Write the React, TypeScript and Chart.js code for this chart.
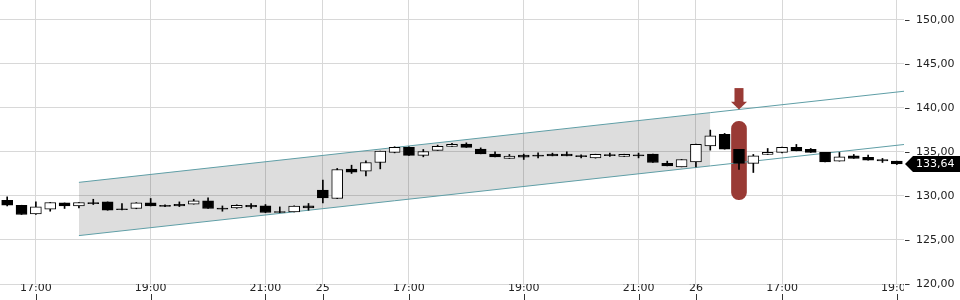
import { useEffect, useRef } from 'react';
import { Chart, registerables } from 'chart.js';

Chart.register(...registerables);

// 15-minute candles, index 0 = day 1 16:30
const opens = [
  129.52, 128.95, 127.96, 128.5, 129.21, 128.87, 129.25, 129.33, 128.55, 128.58,
  129.21, 128.95, 129.05, 129.07, 129.44, 128.6, 128.65, 128.95, 128.87, 128.22,
  128.19, 128.87, 130.66, 129.72, 133.05, 132.82, 133.81, 134.95, 135.52, 134.61,
  135.18, 135.63, 135.89, 135.32, 134.76, 134.27, 134.64, 134.6, 134.76, 134.76,
  134.53, 134.33, 134.68, 134.49, 134.66, 134.76, 133.7, 133.31, 133.88, 135.7,
  137.0, 135.29, 133.7, 134.72, 134.95, 135.52, 135.29, 134.95, 133.96, 134.56,
  134.38, 134.15, 133.96,
];
const highs = [
  129.9, 128.95, 129.33, 129.26, 129.21, 129.26, 129.63, 129.33, 129.15, 129.25,
  129.72, 129.0, 129.33, 129.63, 129.78, 128.87, 129.0, 129.15, 129.03, 128.76,
  128.88, 129.15, 131.8, 133.13, 133.5, 133.99, 135.1, 135.6, 135.6, 135.29,
  135.78, 135.97, 136.04, 135.47, 135.02, 134.72, 134.76, 134.9, 134.87, 135.02,
  134.69, 134.75, 134.87, 134.75, 134.87, 134.76, 133.96, 134.15, 135.9, 137.49,
  137.11, 135.29, 134.72, 135.4, 135.55, 135.86, 135.4, 134.95, 134.95, 134.72,
  134.64, 134.27, 133.96,
];
const lows = [
  128.87, 127.9, 127.9, 128.27, 128.58, 128.65, 129.03, 128.38, 128.42, 128.55,
  128.87, 128.8, 128.8, 129.07, 128.58, 128.27, 128.6, 128.58, 128.12, 128.1,
  128.19, 128.38, 129.21, 129.7, 132.56, 132.29, 133.08, 134.9, 134.6, 134.45,
  135.18, 135.63, 135.52, 134.79, 134.45, 134.27, 134.15, 134.33, 134.56, 134.56,
  134.33, 134.3, 134.5, 134.49, 134.33, 133.81, 133.42, 133.31, 133.31, 135.21,
  135.32, 133.01, 132.67, 134.72, 134.9, 135.13, 134.95, 133.88, 133.96, 134.27,
  134.07, 133.81, 133.58,
];
const closes = [
  128.95, 127.9, 128.76, 129.26, 128.87, 129.26, 129.12, 128.38, 128.44, 129.21,
  128.87, 128.82, 128.87, 129.44, 128.58, 128.5, 128.95, 128.76, 128.12, 128.12,
  128.84, 128.65, 129.78, 133.01, 132.71, 133.81, 135.1, 135.52, 134.61, 135.06,
  135.63, 135.86, 135.52, 134.79, 134.45, 134.53, 134.41, 134.53, 134.56, 134.56,
  134.48, 134.72, 134.58, 134.72, 134.56, 133.81, 133.42, 134.15, 135.86, 136.84,
  135.32, 133.7, 134.56, 134.95, 135.52, 135.13, 134.95, 133.88, 134.45, 134.27,
  134.07, 133.99, 133.64,
];

const xTickIndex = [2, 10, 18, 22, 28, 36, 44, 48, 54, 62];
const xTickLabels = ['17:00', '19:00', '21:00', '25', '17:00', '19:00', '21:00', '26', '17:00', '19:00'];
const yTicks = [120, 125, 130, 135, 140, 145, 150];

// trend channel (candle index, price)
const channelX = [5, 49, 62.5];
const channelUpper = [131.55, 139.47, 141.9];
const channelLower = [125.5, 133.42, 135.85];
const shadedCount = 2; // channel shaded from channelX[0] to channelX[1]

const markerIndex = 51;
const markerRange = [129.58, 138.47];
const arrowLevels = [142.26, 140.71, 139.84]; // top, neck, tip
const lastPrice = 133.64;

const FONT = '"DejaVu Sans", sans-serif';
const GRID = '#d8d8d8';
const TEXT = '#222222';
const RED = '#993a35';
const TEAL = '#5f9ea6';

const fmt = (v: number) => v.toFixed(2).replace('.', ',');

const overlay = {
  id: 'overlay',
  afterDraw(chart: any) {
    const { ctx, chartArea, scales } = chart;
    const x = scales.x;
    const y = scales.y;
    ctx.save();

    // arrow above marker
    const ax = x.getPixelForValue(markerIndex);
    const yTop = y.getPixelForValue(arrowLevels[0]);
    const yNeck = y.getPixelForValue(arrowLevels[1]);
    const yTip = y.getPixelForValue(arrowLevels[2]);
    ctx.fillStyle = RED;
    ctx.fillRect(ax - 4.5, yTop, 9, yNeck - yTop + 0.5);
    ctx.beginPath();
    ctx.moveTo(ax - 8, yNeck);
    ctx.lineTo(ax + 8, yNeck);
    ctx.lineTo(ax, yTip);
    ctx.closePath();
    ctx.fill();

    // y tick dashes
    ctx.strokeStyle = '#333';
    ctx.lineWidth = 1;
    y.ticks.forEach((t: any) => {
      const py = Math.round(y.getPixelForValue(t.value)) + 0.5;
      ctx.beginPath();
      ctx.moveTo(chartArea.right + 1, py);
      ctx.lineTo(chartArea.right + 5.5, py);
      ctx.stroke();
    });

    // x tick marks below labels
    x.ticks.forEach((t: any) => {
      const px = Math.round(x.getPixelForValue(t.value)) + 0.5;
      ctx.beginPath();
      ctx.moveTo(px, chartArea.bottom + 10);
      ctx.lineTo(px, chartArea.bottom + 16);
      ctx.stroke();
    });

    // x labels clipped to plot width
    ctx.save();
    ctx.beginPath();
    ctx.rect(0, chartArea.bottom, chartArea.right, 20);
    ctx.clip();
    ctx.font = '11px ' + FONT;
    ctx.fillStyle = TEXT;
    ctx.textAlign = 'center';
    ctx.textBaseline = 'middle';
    xTickIndex.forEach((v, i) => {
      ctx.fillText(xTickLabels[i], x.getPixelForValue(v), chartArea.bottom + 4);
    });
    ctx.restore();

    // last price tag
    const py = y.getPixelForValue(lastPrice);
    const left = chartArea.right + 1;
    ctx.fillStyle = '#000';
    ctx.beginPath();
    ctx.moveTo(left, py);
    ctx.lineTo(left + 8, py - 8);
    ctx.lineTo(chart.width, py - 8);
    ctx.lineTo(chart.width, py + 8);
    ctx.lineTo(left + 8, py + 8);
    ctx.closePath();
    ctx.fill();
    ctx.fillStyle = '#fff';
    ctx.font = '11px ' + FONT;
    ctx.textAlign = 'left';
    ctx.textBaseline = 'middle';
    ctx.fillText(fmt(lastPrice), chartArea.right + 12, py + 0.5);

    ctx.restore();
  },
};

export default function App() {
  const ref = useRef<HTMLCanvasElement | null>(null);

  useEffect(() => {
    document.body.style.margin = '0';
    if (!ref.current) return;
    const idx = opens.map((_, i) => i);
    const chart = new Chart(ref.current, {
      type: 'bar',
      data: {
        datasets: [
          {
            type: 'bar',
            data: idx.map((i) => ({ x: i, y: [opens[i], closes[i]] })) as any,
            backgroundColor: (c: any) => (closes[c.dataIndex] >= opens[c.dataIndex] ? '#ffffff' : '#000000'),
            borderColor: '#000000',
            borderWidth: 1,
            borderSkipped: false,
            barThickness: 11,
            minBarLength: 1,
            grouped: false,
            order: 1,
          } as any,
          {
            type: 'bar',
            data: idx.map((i) => ({ x: i, y: [lows[i], highs[i]] })) as any,
            backgroundColor: '#000000',
            borderWidth: 0,
            barThickness: 1,
            grouped: false,
            order: 2,
          } as any,
          {
            type: 'bar',
            data: [{ x: markerIndex, y: markerRange }] as any,
            backgroundColor: RED,
            borderWidth: 0,
            borderRadius: 8,
            borderSkipped: false,
            barThickness: 15,
            grouped: false,
            order: 5,
          } as any,
          {
            type: 'line',
            data: channelX.map((v, i) => ({ x: v, y: channelUpper[i] })),
            borderColor: TEAL,
            borderWidth: 1,
            pointRadius: 0,
            fill: false,
            order: 4,
          } as any,
          {
            type: 'line',
            data: channelX.map((v, i) => ({ x: v, y: channelLower[i] })),
            borderColor: TEAL,
            borderWidth: 1,
            pointRadius: 0,
            fill: false,
            order: 4,
          } as any,
          {
            type: 'line',
            data: channelX.slice(0, shadedCount).map((v, i) => ({ x: v, y: channelUpper[i] })),
            borderWidth: 0,
            pointRadius: 0,
            fill: '+1',
            backgroundColor: 'rgba(0,0,0,0.135)',
            order: 6,
          } as any,
          {
            type: 'line',
            data: channelX.slice(0, shadedCount).map((v, i) => ({ x: v, y: channelLower[i] })),
            borderWidth: 0,
            pointRadius: 0,
            fill: false,
            order: 6,
          } as any,
        ],
      },
      options: {
        responsive: false,
        animation: false,
        events: [],
        layout: { padding: 0, autoPadding: false },
        plugins: { legend: { display: false }, tooltip: { enabled: false } },
        scales: {
          x: {
            type: 'linear',
            position: 'bottom',
            min: -0.5,
            max: 62.5,
            offset: false,
            grid: { color: GRID, drawTicks: false, offset: false },
            border: { display: false },
            ticks: { display: false },
            afterBuildTicks: (s: any) => {
              s.ticks = xTickIndex.map((v) => ({ value: v }));
            },
            afterFit: (s: any) => {
              s.height = 16;
              s.paddingLeft = 0;
              s.paddingRight = 0;
            },
          },
          y: {
            type: 'linear',
            position: 'right',
            min: 120,
            max: 152.27,
            grid: { color: GRID, drawTicks: false },
            border: { display: false },
            ticks: {
              color: TEXT,
              font: { family: FONT, size: 11 },
              padding: 12,
              callback: (v: any) => fmt(Number(v)),
            },
            afterBuildTicks: (s: any) => {
              s.ticks = yTicks.map((v) => ({ value: v }));
            },
            afterFit: (s: any) => {
              s.width = 56;
              s.paddingTop = 0;
              s.paddingBottom = 0;
            },
          },
        },
      } as any,
      plugins: [overlay],
    });
    return () => chart.destroy();
  }, []);

  return (
    <div style={{ position: 'absolute', left: 0, top: 0, width: 960, height: 300 }}>
      <canvas ref={ref} width={960} height={300} style={{ width: 960, height: 300 }} />
    </div>
  );
}
